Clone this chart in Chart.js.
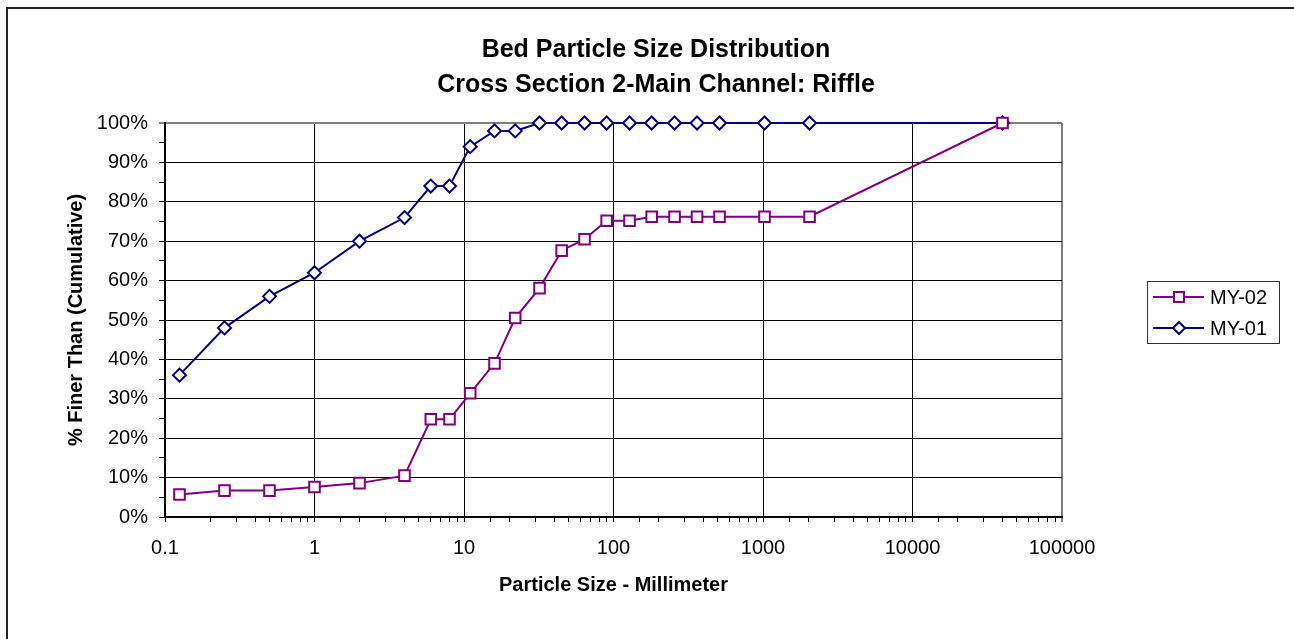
<!DOCTYPE html>
<html>
<head>
<meta charset="utf-8">
<script src="https://cdn.jsdelivr.net/npm/chart.js@4.4.0/dist/chart.umd.min.js"></script>
<style>
  html, body { margin: 0; padding: 0; background: #fff; }
  canvas { display: block; }
</style>
</head>
<body>
<canvas id="psd" width="1294" height="639"></canvas>
<script>
// sieve sizes in mm
const particleSizes = [0.125, 0.25, 0.5, 1, 2, 4, 6, 8, 11, 16, 22, 32, 45, 64, 90, 128, 180, 256, 362, 512, 1024, 2048, 40000];
// cumulative % finer
const my02Values = [5.7, 6.7, 6.7, 7.6, 8.6, 10.5, 24.8, 24.8, 31.4, 39.0, 50.5, 58.1, 67.6, 70.5, 75.2, 75.2, 76.2, 76.2, 76.2, 76.2, 76.2, 76.2, 100];
const my01Values = [36, 48, 56, 62, 70, 76, 84, 84, 94, 98, 98, 100, 100, 100, 100, 100, 100, 100, 100, 100, 100, 100, 100];

const xTickValues = [0.1, 1, 10, 100, 1000, 10000, 100000];
const xTickLabels = ["0.1", "1", "10", "100", "1000", "10000", "100000"];
const yTickValues = [0, 10, 20, 30, 40, 50, 60, 70, 80, 90, 100];

const my02Color = "#800080";
const my01Color = "#000080";

Chart.defaults.font.family = "'Liberation Sans', Arial, sans-serif";
Chart.defaults.color = "#000";

function toPoints(xs, ys) {
  return xs.map((x, i) => ({ x: x, y: ys[i] }));
}

function decadeIndex(v) {
  for (let i = 0; i < xTickValues.length; i++) {
    if (Math.abs(Math.log10(v) - Math.log10(xTickValues[i])) < 1e-6) return i;
  }
  return -1;
}

// outer frame like the spreadsheet chart object
const framePlugin = {
  id: "frame",
  beforeDraw(chart) {
    const ctx = chart.ctx;
    ctx.save();
    ctx.fillStyle = "#fff";
    ctx.fillRect(0, 0, chart.width, chart.height);
    ctx.strokeStyle = "#222";
    ctx.lineWidth = 2;
    ctx.strokeRect(7, 8, chart.width + 20, chart.height + 20);
    ctx.restore();
  }
};

// legend box with line + marker samples
const boxLegend = {
  id: "boxLegend",
  afterDraw(chart) {
    const ctx = chart.ctx;
    const left = chart.chartArea.right + 85;
    const top = 281;
    ctx.save();
    ctx.strokeStyle = "#333";
    ctx.lineWidth = 1;
    ctx.strokeRect(left + 0.5, top + 0.5, 132, 62);
    chart.data.datasets.forEach((ds, i) => {
      const y = top + 16 + i * 31;
      ctx.strokeStyle = ds.borderColor;
      ctx.lineWidth = 2;
      ctx.beginPath();
      ctx.moveTo(left + 6, y);
      ctx.lineTo(left + 57, y);
      ctx.stroke();
      const cx = left + 32;
      ctx.fillStyle = "#fff";
      ctx.beginPath();
      if (ds.pointStyle === "rect") {
        ctx.rect(cx - 5, y - 5, 10, 10);
      } else {
        ctx.moveTo(cx, y - 6);
        ctx.lineTo(cx + 6, y);
        ctx.lineTo(cx, y + 6);
        ctx.lineTo(cx - 6, y);
        ctx.closePath();
      }
      ctx.fill();
      ctx.stroke();
      ctx.fillStyle = "#000";
      ctx.font = "20px 'Liberation Sans', Arial, sans-serif";
      ctx.textBaseline = "middle";
      ctx.textAlign = "left";
      ctx.fillText(ds.label, left + 63, y + 1);
    });
    ctx.restore();
  }
};

const psdConfig = {
  type: "line",
  data: {
    datasets: [
      {
        label: "MY-02",
        data: toPoints(particleSizes, my02Values),
        borderColor: my02Color,
        backgroundColor: "#fff",
        borderWidth: 2,
        pointStyle: "rect",
        pointRadius: 7.5,
        pointBorderWidth: 2,
        pointBackgroundColor: "#fff",
        pointBorderColor: my02Color,
        clip: false,
      },
      {
        label: "MY-01",
        data: toPoints(particleSizes, my01Values),
        borderColor: my01Color,
        backgroundColor: "#fff",
        borderWidth: 2,
        pointStyle: "rectRot",
        pointRadius: 6.5,
        pointBorderWidth: 2,
        pointBackgroundColor: "#fff",
        pointBorderColor: my01Color,
        clip: false,
      },
    ],
  },
  options: {
    responsive: false,
    animation: false,
    layout: { padding: { left: 18, top: 0, right: 0, bottom: 0 } },
    plugins: {
      legend: { display: false },
      tooltip: { enabled: false },
      title: {
        display: true,
        text: ["Bed Particle Size Distribution", "Cross Section 2-Main Channel: Riffle"],
        font: { size: 25, weight: "bold", lineHeight: 1.4 },
        color: "#000",
        padding: { top: 33, bottom: 20 },
      },
    },
    scales: {
      x: {
        type: "logarithmic",
        min: 0.1,
        max: 100000,
        afterFit(scale) { scale.height = 122; },
        border: { display: true, color: "#000", width: 2 },
        grid: {
          color: (ctx) => {
            const v = ctx.tick ? ctx.tick.value : 0;
            if (Math.abs(v - 100000) < 1e-6) return "#808080";
            return decadeIndex(v) >= 0 ? "#000" : "rgba(0,0,0,0)";
          },
          lineWidth: (ctx) => (ctx.tick && Math.abs(ctx.tick.value - 100000) < 1e-6 ? 2 : 1),
          tickColor: "#000",
          tickWidth: 1,
          tickLength: 5,
        },
        ticks: {
          autoSkip: false,
          maxRotation: 0,
          padding: 14,
          font: { size: 20 },
          color: "#000",
          callback: (v) => {
            const i = decadeIndex(v);
            return i >= 0 ? xTickLabels[i] : "";
          },
        },
        title: {
          display: true,
          text: "Particle Size - Millimeter",
          font: { size: 20, weight: "bold" },
          color: "#000",
          padding: { top: 0, bottom: 42 },
        },
      },
      y: {
        type: "linear",
        min: 0,
        max: 100,
        afterFit(scale) { scale.width = 147; },
        border: { display: true, color: "#000", width: 2 },
        grid: {
          color: (ctx) => {
            const v = ctx.tick ? ctx.tick.value : 0;
            if (v === 100) return "#808080";
            return yTickValues.includes(v) ? "#000" : "rgba(0,0,0,0)";
          },
          lineWidth: (ctx) => (ctx.tick && ctx.tick.value === 100 ? 2 : 1),
          tickColor: "#000",
          tickWidth: 1,
          tickLength: 6,
        },
        ticks: {
          stepSize: 5,
          autoSkip: false,
          padding: 11,
          font: { size: 20 },
          color: "#000",
          callback: (v) => (yTickValues.includes(v) ? v + "%" : ""),
        },
        title: {
          display: true,
          text: "% Finer Than (Cumulative)",
          font: { size: 20, weight: "bold" },
          color: "#000",
          padding: { top: 46, bottom: 0 },
        },
      },
      spacer: {
        type: "linear",
        position: "right",
        display: true,
        afterFit(scale) { scale.width = 232; },
        border: { display: false },
        grid: { display: false, drawTicks: false },
        ticks: { display: false },
      },
    },
  },
  plugins: [framePlugin, boxLegend],
};

const psdChart = new Chart(document.getElementById("psd"), psdConfig);
</script>
</body>
</html>
